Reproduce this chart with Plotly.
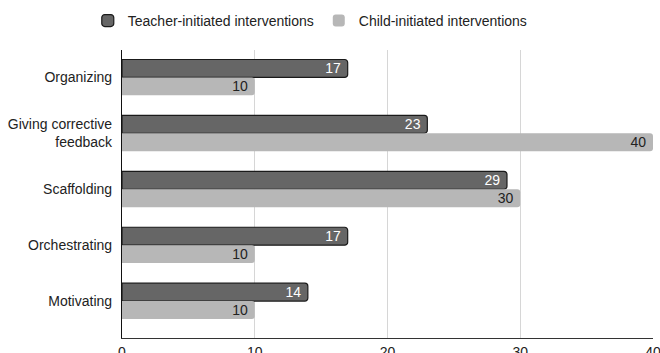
import plotly.graph_objects as go

categories = ["Organizing", "Giving corrective<br>feedback", "Scaffolding", "Orchestrating", "Motivating"]
teacher_vals = [17, 23, 29, 17, 14]
child_vals = [10, 40, 30, 10, 10]
x_ticks = [0, 10, 20, 30, 40]

FONT = "Liberation Sans, Arial, Helvetica, sans-serif"

fig = go.Figure()
fig.add_trace(go.Bar(
    y=categories, x=teacher_vals, orientation="h",
    name="Teacher-initiated interventions",
    marker=dict(color="#666666", line=dict(color="#1a1a1a", width=1.2)),
    text=[f"{v} " for v in teacher_vals], textposition="inside", insidetextanchor="end",
    constraintext="none", textangle=0,
    textfont=dict(color="#ffffff", size=14, family=FONT),
))
fig.add_trace(go.Bar(
    y=categories, x=child_vals, orientation="h",
    name="Child-initiated interventions",
    marker=dict(color="#b7b7b7", line=dict(width=0)),
    text=[f"{v} " for v in child_vals], textposition="inside", insidetextanchor="end",
    constraintext="none", textangle=0,
    textfont=dict(color="#222222", size=14, family=FONT),
))

fig.update_layout(
    width=660, height=353,
    margin=dict(l=122, r=7, t=50, b=15),
    barmode="group", bargap=0.36, bargroupgap=0, barcornerradius=3,
    plot_bgcolor="white", paper_bgcolor="white",
    font=dict(family=FONT, size=14, color="#222222"),
    showlegend=True,
    legend=dict(orientation="h", x=0.133, xref="container", xanchor="left",
                y=0.986, yref="container", yanchor="top",
                font=dict(size=14, family=FONT, color="#222222"),
                traceorder="normal", itemwidth=30),
    xaxis=dict(range=[0, 40], tickvals=x_ticks, ticktext=[str(v) for v in x_ticks],
               showgrid=True, gridcolor="#d6d6d6", gridwidth=1,
               showline=True, linecolor="#333333", linewidth=1.2,
               zeroline=False, automargin=False, ticks="outside", ticklen=1,
               ticklabeloverflow="allow",
               tickcolor="rgba(0,0,0,0)", tickfont=dict(size=14, family=FONT, color="#222222")),
    yaxis=dict(range=[4.66, -0.49], showgrid=False, showline=True, linecolor="#111111",
               linewidth=1.2, automargin=False, ticks="outside", ticklen=6,
               tickcolor="rgba(0,0,0,0)", tickfont=dict(size=14, family=FONT, color="#222222")),
)

fig.write_html("out.html")
